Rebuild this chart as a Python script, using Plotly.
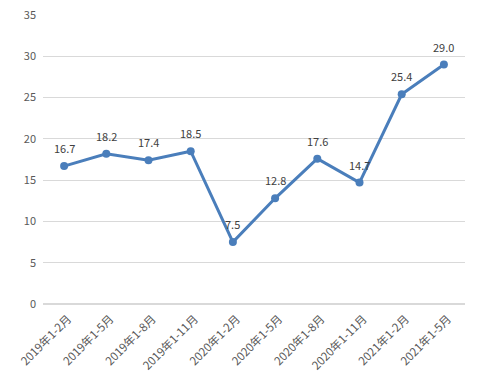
import plotly.graph_objects as go

categories = ["2019年1-2月", "2019年1-5月", "2019年1-8月", "2019年1-11月", "2020年1-2月",
              "2020年1-5月", "2020年1-8月", "2020年1-11月", "2021年1-2月", "2021年1-5月"]
values = [16.7, 18.2, 17.4, 18.5, 7.5, 12.8, 17.6, 14.7, 25.4, 29.0]
labels = [f"{v:.1f}" for v in values]

fig = go.Figure(go.Scatter(
    x=categories, y=values, mode="lines+markers",
    line=dict(color="#4a7ebb", width=3),
    marker=dict(size=8, color="#4a7ebb"),
    cliponaxis=False,
))
for c, v, t in zip(categories, values, labels):
    fig.add_annotation(x=c, y=v, text=t, showarrow=False, yshift=18,
                       font=dict(size=11, color="#404040", family="Noto Sans CJK SC"))
fig.update_layout(
    width=480, height=384,
    margin=dict(l=43, r=15, t=15, b=80),
    paper_bgcolor="white", plot_bgcolor="white",
    showlegend=False,
    font=dict(family="Noto Sans CJK SC", color="#595959", size=11),
)
fig.update_xaxes(tickangle=-45, showgrid=False, showline=False, ticks="",
                 tickfont=dict(size=11.5), range=[-0.5, 9.5], automargin=False,
                 ticklabelstandoff=5, ticklabelshift=4, ticklabeloverflow="allow")
fig.update_yaxes(range=[0, 35], dtick=5, showgrid=True, gridcolor="#d9d9d9",
                 gridwidth=1, zeroline=True, zerolinecolor="#d9d9d9", ticks="",
                 tickfont=dict(size=11), ticklabelstandoff=6, automargin=False,
                 ticklabeloverflow="allow")
fig.write_html("out.html", config={"displayModeBar": False},
               post_script="document.body.style.margin='0';")
